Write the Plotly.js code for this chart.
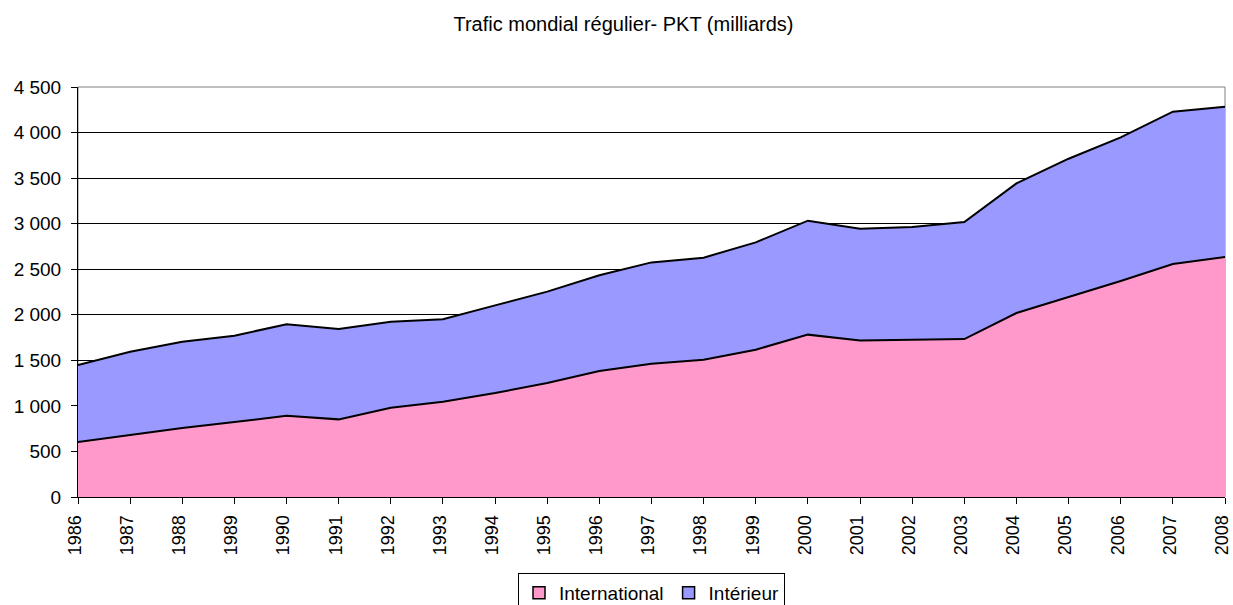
<!DOCTYPE html>
<html>
<head>
<meta charset="utf-8">
<script src="https://cdn.plot.ly/plotly-3.0.1.min.js"></script>
<style>html,body{margin:0;padding:0;background:#fff;}#chart{width:1233px;height:605px;}</style>
</head>
<body>
<div id="chart"></div>
<script>
const years = [1986,1987,1988,1989,1990,1991,1992,1993,1994,1995,1996,1997,1998,1999,2000,2001,2002,2003,2004,2005,2006,2007,2008];
const international = [604,680,757,823,892,852,980,1046,1141,1251,1383,1463,1507,1617,1782,1719,1730,1733,2019,2195,2371,2557,2634];
const total = [1449,1595,1705,1771,1895,1844,1924,1950,2103,2254,2433,2575,2627,2795,3033,2945,2963,3018,3442,3713,3947,4229,4284];
const interieur = total.map((t,i) => t - international[i]);
const seriesNames = ["International", "Intérieur"];
const seriesColors = ["#FF99CC", "#9999FF"];
const yTicks = [0,500,1000,1500,2000,2500,3000,3500,4000,4500];

const font = {family: "Liberation Sans, Arial, sans-serif", color: "#000"};

const traces = [
  {x: years, y: international, name: seriesNames[0], type: "scatter", mode: "lines", showlegend: false,
   stackgroup: "a", line: {color: "#000", width: 2}, fillcolor: seriesColors[0]},
  {x: years, y: interieur, name: seriesNames[1], type: "scatter", mode: "lines", showlegend: false,
   stackgroup: "a", line: {color: "#000", width: 2}, fillcolor: seriesColors[1]},
  // legend keys (square swatches, as in the original)
  {x: [null], y: [null], name: seriesNames[0], type: "scatter", mode: "markers",
   marker: {symbol: "square", size: 12, color: seriesColors[0], line: {color: "#000", width: 1.5}}},
  {x: [null], y: [null], name: seriesNames[1], type: "scatter", mode: "markers",
   marker: {symbol: "square", size: 12, color: seriesColors[1], line: {color: "#000", width: 1.5}}}
];

const layout = {
  width: 1233, height: 605,
  margin: {l: 78, r: 8, t: 87, b: 108, autoexpand: false},
  paper_bgcolor: "#fff", plot_bgcolor: "#fff",
  separators: ", ",
  font: Object.assign({size: 19}, font),
  title: {text: "Trafic mondial régulier- PKT (milliards)", font: Object.assign({size: 20}, font),
          x: 623.5/1233, xanchor: "center", xref: "container", y: 1 - 24/605, yref: "container", yanchor: "middle"},
  showlegend: true,
  legend: {orientation: "h", x: 0.5, xanchor: "center", y: -0.1854, yanchor: "top",
           bordercolor: "#000", borderwidth: 1, font: Object.assign({size: 19}, font),
           traceorder: "normal", itemwidth: 30, tracegroupgap: 0},
  xaxis: {range: [1986, 2008], tickmode: "array", tickvals: years, ticktext: years.map(String),
          tickangle: -90, ticks: "outside", ticklen: 6, tickcolor: "#000", ticklabelstandoff: 4,
          ticklabeloverflow: "allow", ticklabelshift: -3,
          showline: true, linecolor: "#000", linewidth: 1, showgrid: false, zeroline: false,
          tickfont: Object.assign({size: 18}, font), fixedrange: true},
  yaxis: {range: [0, 4500], tickmode: "array", tickvals: yTicks, tickformat: ",d",
          ticks: "outside", ticklen: 6, tickcolor: "#000", ticklabelstandoff: 6,
          showline: true, linecolor: "#000", linewidth: 1, showgrid: true, gridcolor: "#000", gridwidth: 1,
          zeroline: false, tickfont: Object.assign({size: 19}, font), fixedrange: true},
  shapes: [{type: "rect", xref: "paper", yref: "paper", x0: 0, x1: 1, y0: 0, y1: 1,
            line: {color: "#808080", width: 1}, layer: "below"}]
};

Plotly.newPlot("chart", traces, layout, {displayModeBar: false, staticPlot: true});
</script>
</body>
</html>
